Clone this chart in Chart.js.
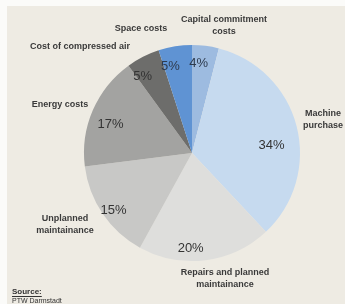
<!DOCTYPE html>
<html>
<head>
<meta charset="utf-8">
<script src="https://cdn.jsdelivr.net/npm/chart.js@4/dist/chart.umd.min.js"></script>
<style>
    html, body { margin: 0; padding: 0; background: #fbfbf9; }
    #painel { position: absolute; left: 7px; top: 6px; width: 338px; height: 298px; background: #eeebe3; }
    #grafico { position: absolute; left: 0; top: 0; }
</style>
</head>
<body>
<div id="painel"></div>
<canvas id="grafico" width="345" height="304"></canvas>
<script>
// Dados do gráfico (sentido horário a partir do topo)
const categorias = [
    ['Capital commitment', 'costs'],
    ['Machine', 'purchase'],
    ['Repairs and planned', 'maintainance'],
    ['Unplanned', 'maintainance'],
    ['Energy costs'],
    ['Cost of compressed air'],
    ['Space costs']
];
const valores = [4, 34, 20, 15, 17, 5, 5];
const cores = ['#9dbbe0', '#c6daef', '#dededc', '#c8c8c6', '#a3a3a1', '#6d6d6b', '#5f93d3'];

// Posição dos rótulos (deslocamento em relação ao centro da pizza)
const posRotulos = [[32, -127], [131, -33], [33, 126], [-127, 72], [-132, -48], [-112, -106], [-51, -124]];
// Percentuais: raio relativo e ajuste de ângulo (graus)
const posPercent = [[0.83, -3], [0.74, 9], [0.88, 8], [0.9, -2], [0.8, -4], [0.84, -6], [0.83, -5]];

const rotulosPlugin = {
    id: 'rotulos',
    afterDatasetsDraw(chart) {
        const ctx = chart.ctx;
        const arcos = chart.getDatasetMeta(0).data;
        ctx.save();
        ctx.textAlign = 'center';
        ctx.textBaseline = 'middle';
        arcos.forEach((arco, i) => {
            const meio = (arco.startAngle + arco.endAngle) / 2 + posPercent[i][1] * Math.PI / 180;
            const r = arco.outerRadius * posPercent[i][0];
            ctx.font = '13px "Liberation Sans", Arial, sans-serif';
            ctx.fillStyle = i === 0 || i === 6 ? '#2e3b4e' : '#333';
            ctx.fillText(valores[i] + '%', arco.x + Math.cos(meio) * r, arco.y + Math.sin(meio) * r);

            ctx.font = 'bold 9px "Liberation Sans", Arial, sans-serif';
            ctx.fillStyle = '#3a3a3a';
            const linhas = categorias[i];
            const x = arco.x + posRotulos[i][0];
            const y0 = arco.y + posRotulos[i][1] - (linhas.length - 1) * 6;
            linhas.forEach((txt, j) => ctx.fillText(txt, x, y0 + j * 12));
        });

        // Fonte
        ctx.textAlign = 'left';
        ctx.font = 'bold 8px "Liberation Sans", Arial, sans-serif';
        ctx.fillStyle = '#333';
        ctx.fillText('Source:', 12, 292);
        const w = ctx.measureText('Source:').width;
        ctx.fillRect(12, 296, w, 1);
        ctx.font = '7px "Liberation Sans", Arial, sans-serif';
        ctx.fillText('PTW Darmstadt', 12, 301);
        ctx.restore();
    }
};

new Chart(document.getElementById('grafico'), {
    type: 'pie',
    data: {
        labels: categorias.map(c => c.join(' ')),
        datasets: [{
            data: valores,
            backgroundColor: cores,
            borderWidth: 0
        }]
    },
    options: {
        responsive: false,
        animation: false,
        layout: {
            padding: { left: 84, right: 45, top: 45, bottom: 43 }
        },
        plugins: {
            legend: { display: false },
            tooltip: { enabled: false }
        }
    },
    plugins: [rotulosPlugin]
});
</script>
</body>
</html>
